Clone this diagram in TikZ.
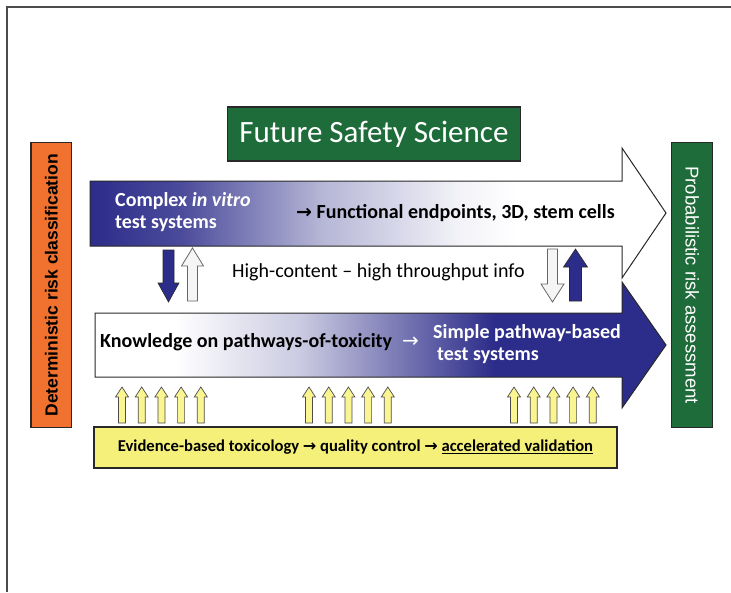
\documentclass[tikz,border=0pt]{standalone}
\usepackage{fontspec}
\setmainfont{Carlito}
\newfontfamily\arialfont{Liberation Sans}
\newfontfamily\arrowfont{DejaVu Sans}
\definecolor{dblue}{RGB}{44,44,138}
\definecolor{sgreen}{RGB}{30,108,58}
\definecolor{orng}{RGB}{240,114,46}
\definecolor{ybox}{RGB}{245,240,122}
\definecolor{yarrow}{RGB}{250,245,145}
\definecolor{edge}{RGB}{40,40,40}
\pgfdeclarehorizontalshading{topgrad}{100bp}{color(0bp)=(dblue); color(25bp)=(dblue); color(33bp)=(dblue!85); color(45bp)=(dblue!35); color(57bp)=(dblue!6); color(62bp)=(white); color(100bp)=(white)}
\pgfdeclarehorizontalshading{botgrad}{100bp}{color(0bp)=(white); color(25bp)=(white); color(32bp)=(white); color(43bp)=(dblue!25); color(52bp)=(dblue!65); color(60bp)=(dblue); color(100bp)=(dblue)}
\newcommand\uparr[7]{\draw[#1] (#2-#5,#4) -- (#2-#5,#3+#7) -- (#2-#6,#3+#7) -- (#2,#3) -- (#2+#6,#3+#7) -- (#2+#5,#3+#7) -- (#2+#5,#4) -- cycle;}
\newcommand\downarr[7]{\draw[#1] (#2-#5,#3) -- (#2-#5,#4-#7) -- (#2-#6,#4-#7) -- (#2,#4) -- (#2+#6,#4-#7) -- (#2+#5,#4-#7) -- (#2+#5,#3) -- cycle;}
\newcommand\barrow[1]{{\arrowfont\bfseries\fontsize{#1}{#1}\selectfont →}}
\tikzset{
  framestyle/.style={draw=black!70, line width=2pt},
  bigarrow/.style={draw=edge, line width=1pt},
  boxstyle/.style={draw=edge, line width=1.2pt, inner sep=0pt, align=center},
  bluearr/.style={fill=dblue, draw=edge, line width=0.6pt},
  whitearr/.style={fill=black!4, draw=black!60, line width=0.8pt},
  yellowarr/.style={fill=yarrow, draw=black!70, line width=0.7pt},
  maintext/.style={font=\fontsize{20}{22}\selectfont, inner sep=0pt, align=left},
  boldtext/.style={maintext, font=\bfseries\fontsize{20}{22}\selectfont},
}
\begin{document}
\begin{tikzpicture}[x=1pt,y=-1pt]
\useasboundingbox (0,0) rectangle (731,592);
\fill[white] (0,0) rectangle (731,592);
\draw[framestyle] (7,592) -- (7,7) -- (731,7);
% title
\node[boxstyle, fill=sgreen, text=white, minimum width=293pt, minimum height=54pt,
  font=\fontsize{31}{34}\selectfont] (title) at (374,134) {Future Safety Science};
% side boxes
\node[boxstyle, fill=orng, rotate=90, minimum width=285pt, minimum height=40.5pt,
  font=\arialfont\bfseries\fontsize{17.5}{20}\selectfont] (det) at (51.3,285.2) {Deterministic risk classification};
\node[boxstyle, fill=sgreen, text=white, rotate=-90, minimum width=285pt, minimum height=41pt,
  font=\arialfont\fontsize{18.5}{21}\selectfont] (prob) at (692.3,285.2) {Probabilistic risk assessment};
% big arrows
\shadedraw[bigarrow, shading=topgrad] (90,181) -- (622,181) -- (622,148) -- (666,213) -- (622,278) -- (622,246) -- (90,246) -- cycle;
\shadedraw[bigarrow, shading=botgrad] (95,313) -- (622,313) -- (622,282) -- (666,345) -- (622,408) -- (622,377) -- (95,377) -- cycle;
% texts in top arrow
\node[boldtext, text=white, anchor=west] (cx) at (115,212) {Complex \textit{in vitro}\\test systems};
\node[boldtext, anchor=west] (fe) at (296,213) {\barrow{19} Functional endpoints, 3D, stem cells};
% middle
\node[maintext, anchor=west] (hc) at (232,272) {High-content – high throughput info};
% small vertical arrows
\downarr{bluearr}{168.5}{250}{302}{5.5}{10.5}{19}
\uparr{whitearr}{192.5}{248}{301}{5}{11}{18}
\downarr{whitearr}{552.5}{249}{302}{5}{11.5}{18}
\uparr{bluearr}{575.5}{249}{301}{6}{12}{18}
% texts in bottom arrow
\node[boldtext, anchor=west] (kn) at (100,342) {Knowledge on pathways-of-toxicity};
\node[maintext, text=white, anchor=west] (ar2) at (402,342) {{\arrowfont\fontsize{20}{20}\selectfont →}};
\node[boldtext, text=white, anchor=west] (sp) at (433,344) {Simple pathway-based\\\hspace*{4pt}test systems};
% yellow arrows
\foreach \gx in {122,309,514}{
  \foreach \i in {0,...,4}{
    \pgfmathsetmacro\cx{\gx+19.7*\i}
    \uparr{yellowarr}{\cx}{387}{423}{3.5}{6.5}{10}
  }
}
% yellow box
\node[boxstyle, fill=ybox, minimum width=523pt, minimum height=41pt,
  font=\bfseries\fontsize{16.6}{19}\selectfont] (ev) at (355.5,447.5)
  {Evidence-based toxicology \barrow{16} quality control \barrow{16} \underline{accelerated validation}};
\end{tikzpicture}
\end{document}
